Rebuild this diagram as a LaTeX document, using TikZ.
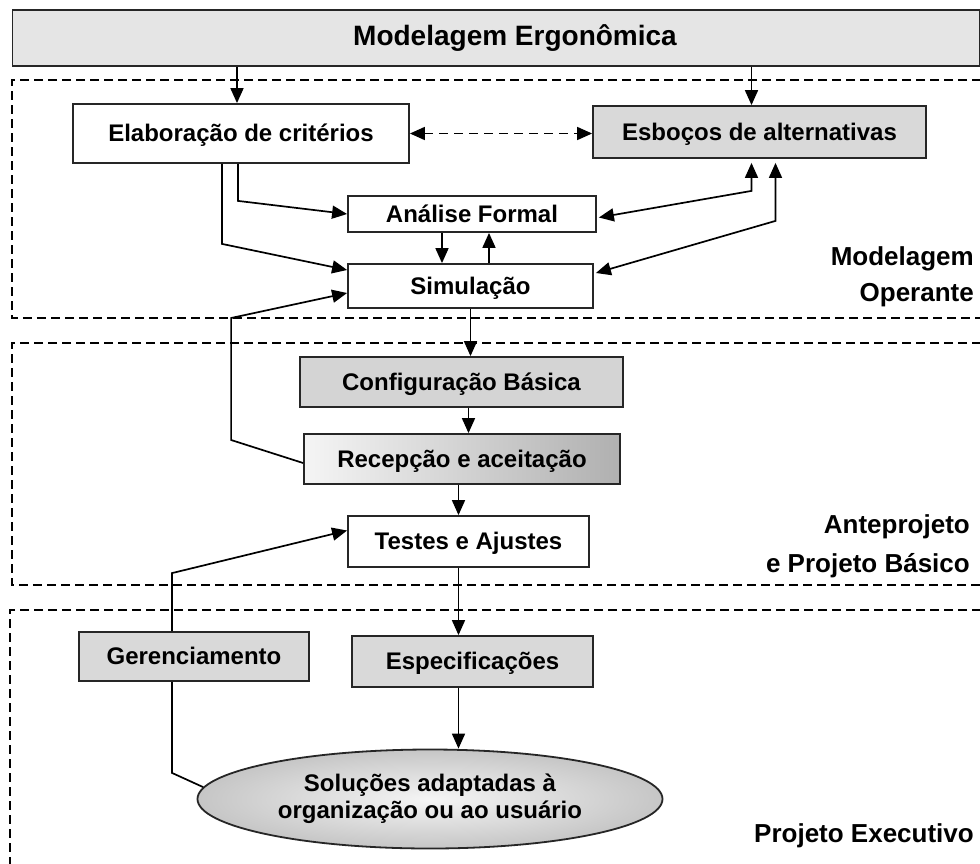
\documentclass[tikz,border=0pt]{standalone}
\usepackage{fontspec}
\setmainfont{Liberation Sans}
\usetikzlibrary{arrows.meta,shapes.geometric,calc}
\begin{document}
\begin{tikzpicture}[x=1pt,y=-1pt]
\tikzset{
 nodefont/.style={font=\bfseries\fontsize{24}{27}\selectfont},
 boxw/.style={draw=black!85, line width=1.8pt, fill=white, inner sep=0pt, nodefont, text height=17pt, text depth=1pt},
 boxg/.style={boxw, fill=gray!30},
 tip/.tip={Triangle[length=15pt,width=13pt]},
 arr/.style={line width=1.7pt, -tip},
 darr/.style={line width=1.7pt, tip-tip},
 plain/.style={line width=1.7pt},
 region/.style={line width=1.5pt, dash pattern=on 9pt off 5pt},
 side/.style={font=\bfseries\fontsize{26}{28}\selectfont, anchor=base east, inner sep=0pt},
}
\useasboundingbox (0,0) rectangle (980,863);
\fill[white] (0,0) rectangle (980,863);

% dashed regions
\draw[region] (995,80) -- (12,80) -- (12,318) -- (995,318);
\draw[region] (995,343) -- (12,343) -- (12,585) -- (995,585);
\draw[region] (995,610) -- (10,610) -- (10,875);

% title
\node[draw=black!85, line width=1.8pt, fill=gray!20, minimum width=967pt, minimum height=56pt, inner sep=0pt] (title) at (496,38) {};
\node[font=\bfseries\fontsize{28}{30}\selectfont, text height=20pt, text depth=1pt, inner sep=0pt] (titletxt) at (515,35.5) {Modelagem Ergonômica};

% nodes
\node[boxw, minimum width=336pt, minimum height=59pt] (elab) at (241,133.5) {Elaboração de critérios};
\node[boxg, minimum width=333pt, minimum height=52pt] (esb) at (759.5,132) {Esboços de alternativas};
\node[boxw, minimum width=248pt, minimum height=36pt] (af) at (472,214) {Análise Formal};
\node[boxw, minimum width=245pt, minimum height=44pt] (sim) at (470.5,286) {Simulação};
\node[boxg, fill=gray!34, minimum width=323pt, minimum height=50pt] (conf) at (461.5,382) {Configuração Básica};
\node[boxw, left color=gray!8, right color=gray!62, minimum width=316pt, minimum height=50pt] (rec) at (462,459) {Recepção e aceitação};
\node[boxw, minimum width=241pt, minimum height=51pt] (testes) at (468.5,541.5) {Testes e Ajustes};
\node[boxg, minimum width=230pt, minimum height=49pt] (ger) at (194,656.5) {Gerenciamento};
\node[boxg, minimum width=241pt, minimum height=51pt] (espec) at (472.5,661.5) {Especificações};
\node[ellipse, draw=black!85, line width=1.8pt, inner color=gray!8, outer color=gray!45, minimum width=465pt, minimum height=99pt, inner sep=0pt, align=center, nodefont] (sol) at (430,799) {Soluções adaptadas à\\organização ou ao usuário};

% side labels
\node[side] (l1) at (974,265) {Modelagem};
\node[side] (l2) at (974,301) {Operante};
\node[side] (l3) at (970,533) {Anteprojeto};
\node[side] (l4) at (970,572) {e Projeto Básico};
\node[side] (l5) at (974,842) {Projeto Executivo};

% connectors
\coordinate (e1) at ($(elab.north)+(-4,0)$);
\draw[arr] (e1 |- title.south) -- (e1);
\coordinate (e2) at ($(esb.north)+(-8,0)$);
\draw[arr] (e2 |- title.south) -- (e2);

\draw[darr, dash pattern=on 9pt off 6pt] (elab.east) -- (elab.east -| esb.west);

\draw[arr] ($(elab.south)+(-3,0)$) -- ++(0,37) -- (af.west);
\draw[arr] ($(elab.south)+(-19,0)$) -- ++(0,80) -- ($(sim.west)+(0,-16)$);

\draw[darr] ($(esb.south)+(-8,4)$) -- ++(0,28) -- ($(af.east)+(2,3.5)$);
\draw[darr] ($(esb.south)+(16,4)$) -- ++(0,58) -- ($(sim.east)+(2,-13)$);

\coordinate (a1) at ($(af.south)+(-30,0)$);
\draw[arr] (a1) -- (a1 |- sim.north);
\coordinate (a2) at ($(af.south)+(17,0)$);
\draw[arr] (a2 |- sim.north) -- (a2);

\draw[arr] (sim.south) -- (sim.south |- conf.north);
\coordinate (c1) at ($(conf.south)+(7,0)$);
\draw[arr] (c1) -- (c1 |- rec.north);
\coordinate (t1) at ($(testes.north)+(-10,0)$);
\draw[arr] (t1 |- rec.south) -- (t1);

\draw[arr] ($(rec.west)+(0,4)$) -- ++(-72,-23) -- ++(0,-122) -- ($(sim.west)+(0,7)$);

\coordinate (t2) at ($(testes.south)+(-10,0)$);
\draw[arr] (t2) -- (t2 |- espec.north);
\coordinate (s1) at ($(espec.south)+(-14,0)$);
\draw[arr] (s1) -- (s1 |- sol.north);

\draw[arr] ($(ger.north)+(-22,0)$) -- ++(0,-58) -- ($(testes.west)+(0,-11)$);
\draw[plain] ($(ger.south)+(-22,0)$) -- ++(0,91) -- (sol.177);
\end{tikzpicture}
\end{document}
